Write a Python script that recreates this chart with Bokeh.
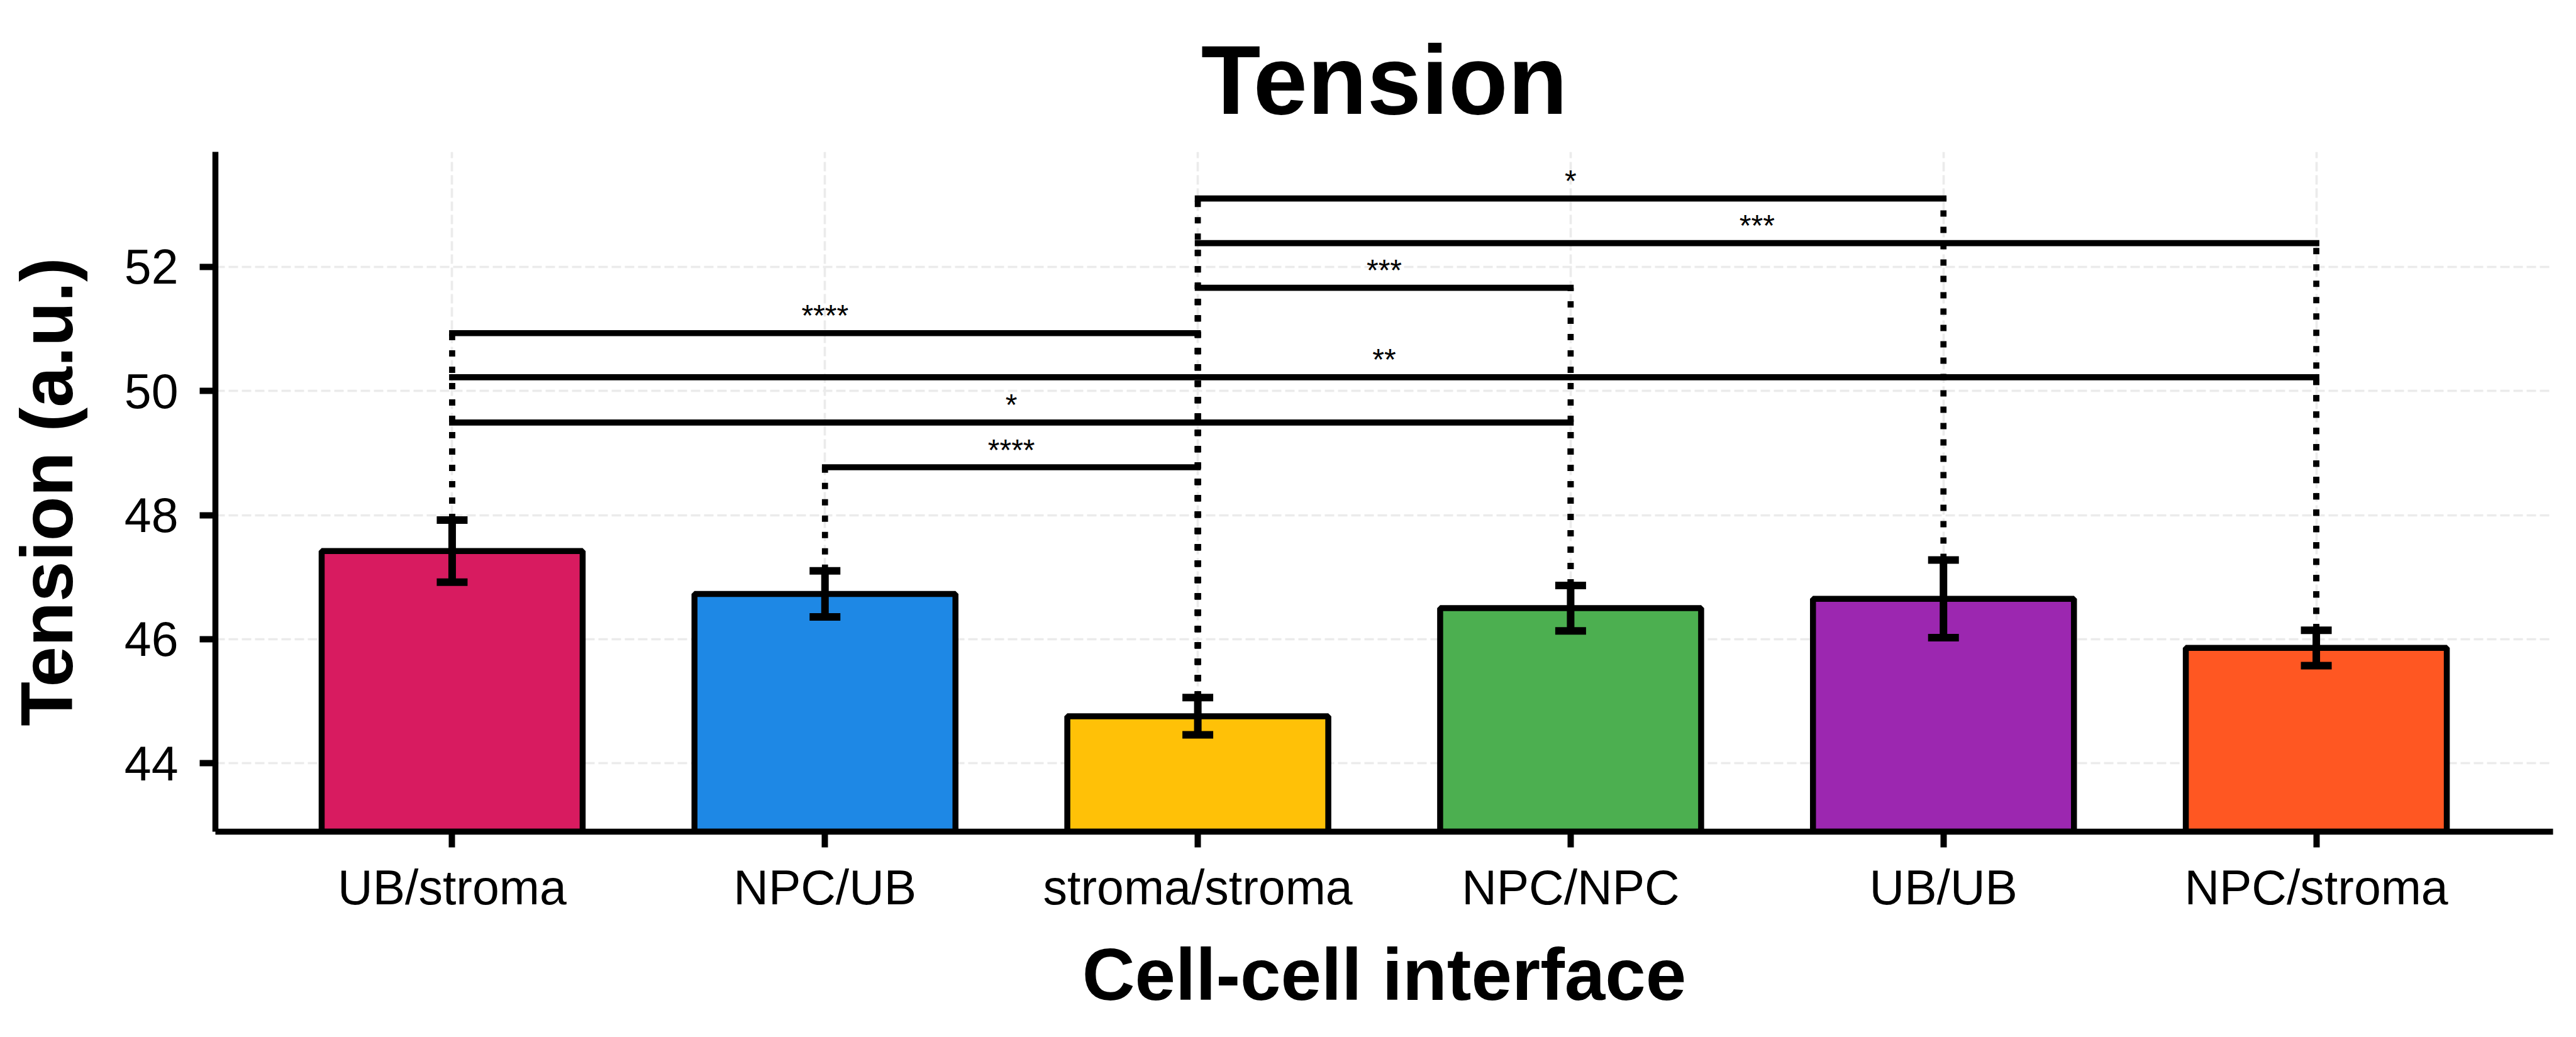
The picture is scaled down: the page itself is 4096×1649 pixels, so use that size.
from bokeh.plotting import figure
from bokeh.models import Range1d, FixedTicker, Whisker, ColumnDataSource, TeeHead
from bokeh.core.properties import value
from bokeh.embed import file_html
from bokeh.resources import INLINE

# ---- data ----
categories = ["UB/stroma", "NPC/UB", "stroma/stroma", "NPC/NPC", "UB/UB", "NPC/stroma"]
means = [47.42, 46.73, 44.76, 46.50, 46.65, 45.86]
errors = [0.50, 0.37, 0.30, 0.365, 0.625, 0.285]
colors = ["#D81B60", "#1E88E5", "#FFC107", "#4CAF50", "#9C27B0", "#FF5722"]
y_ticks = [44, 46, 48, 50, 52]

# significance brackets (indices into categories)
pair_left = [1, 0, 0, 0, 2, 2, 2]
pair_right = [2, 3, 5, 2, 3, 5, 4]
bracket_y = [48.77, 49.49, 50.22, 50.93, 51.66, 52.38, 53.10]
stars = ["****", "*", "**", "****", "***", "***", "*"]

FONT = "Liberation Sans"

xs = list(range(len(categories)))
src = ColumnDataSource(dict(
    x=xs, top=means, color=colors,
    upper=[m + e for m, e in zip(means, errors)],
    lower=[m - e for m, e in zip(means, errors)],
))

p = figure(width=4096, height=1649, output_backend="svg", toolbar_location=None,
           x_range=Range1d(-0.635, 5.635), y_range=Range1d(42.9, 53.85),
           min_border_left=342, min_border_right=37, min_border_top=241,
           min_border_bottom=327)
p.outline_line_color = None
p.background_fill_color = "white"
p.border_fill_color = "white"

# title
p.title.text = "Tension"
p.title.align = "center"
p.title.text_font = FONT
p.title.text_font_size = "155px"
p.title.text_font_style = "bold"
p.title.text_color = "black"
p.title.standoff = 55

# grid
p.grid.grid_line_color = "#EBEBEB"
p.grid.grid_line_width = 3.7
p.grid.grid_line_dash = "15 6"

# bars
p.vbar(x="x", top="top", bottom=40, width=0.7, source=src,
       fill_color="color", line_color="black", line_width=9.5)

# dotted connector lines (drawn from error-bar top upward)
seg_x, seg_y0, seg_y1 = [], [], []
for l, r, by in zip(pair_left, pair_right, bracket_y):
    for i in (l, r):
        seg_x.append(i)
        seg_y0.append(means[i] + errors[i])
        seg_y1.append(by)
p.segment(x0=seg_x, y0=seg_y0, x1=seg_x, y1=seg_y1, line_color="black",
          line_width=9.7, line_dash="10 16")

# bracket horizontal lines
p.segment(x0=pair_left, y0=bracket_y, x1=pair_right, y1=bracket_y,
          line_color="black", line_width=9.7, line_cap="square")

# significance labels
mid_x = [(l + r) / 2 for l, r in zip(pair_left, pair_right)]
p.text(x=mid_x, y=bracket_y, text=stars, text_align="center",
       text_baseline="alphabetic", y_offset=-28, text_font=value(FONT),
       text_font_size="48px", text_color="black")

# error bars
w = Whisker(source=src, base="x", upper="upper", lower="lower",
            line_color="black", line_width=12, level="annotation",
            upper_head=TeeHead(size=49, line_width=12, line_color="black"),
            lower_head=TeeHead(size=49, line_width=12, line_color="black"))
p.add_layout(w)

# axes
p.xaxis.ticker = FixedTicker(ticks=xs)
p.xaxis.major_label_overrides = {i: c for i, c in zip(xs, categories)}
p.yaxis.ticker = FixedTicker(ticks=y_ticks)
for ax in (p.xaxis, p.yaxis):
    ax.axis_line_width = 9.5
    ax.axis_line_color = "black"
    ax.major_tick_line_width = 10
    ax.major_tick_line_color = "black"
    ax.major_tick_in = 0
    ax.major_tick_out = 25
    ax.minor_tick_line_color = None
    ax.major_label_text_font = FONT
    ax.major_label_text_font_size = "77px"
    ax.major_label_text_color = "black"
    ax.axis_label_text_font = FONT
    ax.axis_label_text_font_size = "116px"
    ax.axis_label_text_font_style = "bold"
    ax.axis_label_text_color = "black"

p.xaxis.axis_label = "Cell-cell interface"
p.yaxis.axis_label = "Tension (a.u.)"
p.xaxis.major_label_standoff = 20
p.yaxis.major_label_standoff = 34
p.xaxis.axis_label_standoff = 28
p.yaxis.axis_label_standoff = 55

open("out.html", "w").write(file_html(p, INLINE))
